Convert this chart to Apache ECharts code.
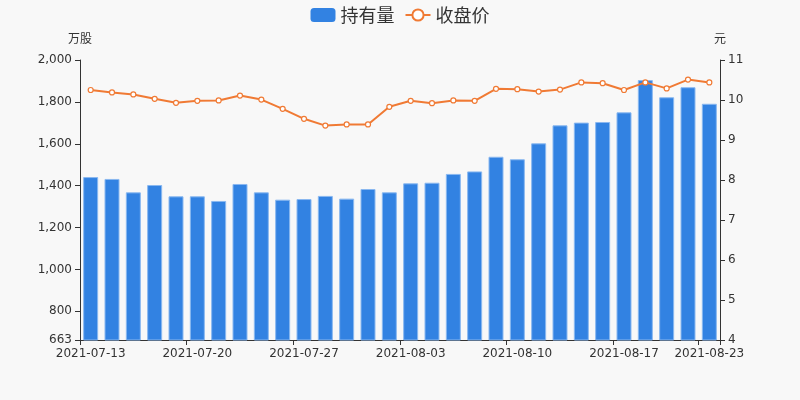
<!DOCTYPE html>
<html>
<head>
<meta charset="utf-8">
<script src="https://cdn.jsdelivr.net/npm/echarts@6/dist/echarts.min.js"></script>
<style>
html,body{margin:0;padding:0;background:#f8f8f8;}
#c{width:800px;height:400px;}
</style>
</head>
<body>
<div id="c"></div>
<script>
const categories = [
  '2021-07-13','2021-07-14','2021-07-15','2021-07-16',
  '2021-07-19','2021-07-20','2021-07-21','2021-07-22','2021-07-23',
  '2021-07-26','2021-07-27','2021-07-28','2021-07-29','2021-07-30',
  '2021-08-02','2021-08-03','2021-08-04','2021-08-05','2021-08-06',
  '2021-08-09','2021-08-10','2021-08-11','2021-08-12','2021-08-13',
  '2021-08-16','2021-08-17','2021-08-18','2021-08-19','2021-08-20',
  '2021-08-23'
];
const holdings = [
  1441,1432,1368,1403,
  1349,1349,1327,1408,1368,
  1333,1336,1351,1338,1384,
  1368,1411,1414,1456,1468,
  1538,1526,1602,1688,1701,
  1704,1750,1904,1822,1870,
  1791
];
const closePrice = [
  10.25,10.19,10.14,10.03,
  9.93,9.98,9.99,10.11,10.01,
  9.78,9.53,9.36,9.39,9.39,
  9.83,9.98,9.92,9.99,9.98,
  10.28,10.27,10.21,10.26,10.44,
  10.42,10.25,10.44,10.29,10.51,
  10.44
];
const leftName = '万股';
const rightName = '元';

const FONT = '"DejaVu Sans", "Noto Sans CJK SC", sans-serif';
const chart = echarts.init(document.getElementById('c'));
const lastIdx = categories.length - 1;
const axisLineStyle = {show:true, lineStyle:{color:'#333'}};
chart.setOption({
  backgroundColor:'#f8f8f8',
  textStyle:{fontFamily:FONT},
  legend:{
    top:1, left:'center', itemWidth:25, itemHeight:14, itemGap:10,
    textStyle:{fontSize:18, color:'#333', fontFamily:'"Noto Sans CJK SC", sans-serif'},
    data:[
      {name:'持有量', itemStyle:{borderWidth:0}},
      {name:'收盘价'}
    ]
  },
  grid:{left:80, right:80, top:60, bottom:60},
  xAxis:{
    type:'category', data:categories, boundaryGap:true,
    axisLine:axisLineStyle,
    axisTick:{show:true, length:5, lineStyle:{color:'#333'}},
    axisLabel:{
      color:'#333', fontSize:12, margin:8, fontFamily:FONT,
      interval:function(i){ return i % 5 === 0 || i === lastIdx; }
    }
  },
  yAxis:[
    {
      type:'value', name:leftName, nameGap:14, min:663, max:2000, splitNumber:7,
      nameTextStyle:{color:'#333', fontSize:12, align:'center', fontFamily:FONT},
      axisLine:axisLineStyle,
      axisTick:{show:true, length:5, lineStyle:{color:'#333'}},
      axisLabel:{color:'#333', fontSize:12, fontFamily:FONT},
      splitLine:{show:false}
    },
    {
      type:'value', name:rightName, nameGap:14, min:4, max:11, interval:1,
      nameTextStyle:{color:'#333', fontSize:12, align:'center', fontFamily:FONT},
      axisLine:axisLineStyle,
      axisTick:{show:true, length:5, lineStyle:{color:'#333'}},
      axisLabel:{color:'#333', fontSize:12, fontFamily:FONT},
      splitLine:{show:false}
    }
  ],
  series:[
    {
      name:'持有量', type:'bar', yAxisIndex:0, data:holdings, barWidth:15,
      itemStyle:{color:'#3282e2', borderColor:'#8ab8f0', borderWidth:1}
    },
    {
      name:'收盘价', type:'line', yAxisIndex:1, data:closePrice,
      symbol:'circle', symbolSize:5, showSymbol:true,
      lineStyle:{color:'#f07a34', width:2},
      itemStyle:{color:'#ffffff', borderColor:'#f07a34', borderWidth:1.2}
    }
  ]
});
</script>
</body>
</html>
